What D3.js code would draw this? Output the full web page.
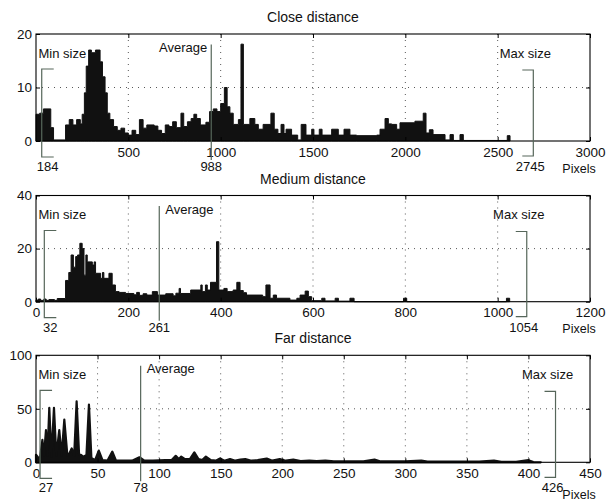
<!DOCTYPE html>
<html>
<head>
<meta charset="utf-8">
<script src="https://cdn.jsdelivr.net/npm/d3@7"></script>
<style>
	body { margin: 0; background: #fff; }
	svg text { font-family: "Liberation Sans", Arial, sans-serif; fill: #111; }
</style>
</head>
<body>
<script>

// histogram of close distance (bin start in pixels, count)
var closeX = [0, 20, 40, 80, 95, 160, 180, 200, 220, 240, 250, 262, 272, 285, 300, 322, 347, 360, 374, 386,
	400, 420, 440, 460, 480, 500, 520, 540, 560, 580, 600, 640, 660, 680, 700, 720, 740, 760, 785, 800,
	820, 840, 855, 870, 890, 920, 940, 960, 980, 1000, 1020, 1035, 1050, 1068, 1096, 1110, 1123, 1158, 1185, 1204,
	1230, 1272, 1290, 1310, 1327, 1343, 1354, 1384, 1417, 1436, 1462, 1493, 1505, 1534, 1549, 1601, 1637, 1668, 1700, 1736,
	1845, 1863, 1890, 1908, 1926, 1953, 1971, 2052, 2097, 2112, 2130, 2150, 2215, 2242, 2260, 2296, 2314, 2552, 2567];
var closeY = [5, 5.2, 6, 2.5, 0.2, 3, 4, 3, 4, 3.2, 5, 9, 14, 17, 16.5, 17, 14.8, 12, 9, 5.2,
	4, 2.7, 2, 2.4, 1.5, 1.1, 2, 1.2, 4, 2.4, 3, 2.8, 2, 1.4, 3, 2.7, 3.6, 2.5, 5.2, 2.7,
	3.6, 4.2, 5, 4.2, 3, 3.5, 5.5, 6, 5.5, 7, 10, 6.4, 5.2, 3.1, 4, 18.1, 3.1, 4.2, 3.1, 2.2,
	3.1, 5.2, 2.2, 1.4, 3.1, 1.4, 2.2, 1.1, 0.2, 3.1, 1.1, 2.2, 1.1, 2.2, 1.1, 2.2, 1.1, 2.2, 1.1, 1,
	1.1, 2.2, 4.2, 3.2, 3.1, 2.2, 3.4, 3.7, 5.2, 1.5, 2.1, 1.2, 0.2, 1.2, 0.1, 1.2, 0.1, 1, 0];

// histogram of medium distance
var medX = [0, 5, 10, 17, 22, 28, 40, 46, 64, 71, 76, 81, 86, 90, 95, 100, 104, 108, 111, 122,
	126, 129, 140, 144, 147, 158, 165, 172, 180, 194, 212, 218, 224, 232, 240, 252, 263, 281, 297, 303,
	310, 313, 335, 357, 360, 367, 371, 378, 391, 396, 407, 414, 427, 435, 442, 449, 456, 491, 498, 507,
	514, 521, 550, 565, 572, 583, 590, 597, 619, 626, 648, 655, 680, 689, 796, 803, 1019, 1026];
var medY = [0.6, 1, 0.5, 1, 0.5, 0.8, 0.5, 1.2, 8, 11, 17.6, 13, 17, 17.6, 22, 20, 10, 17.6, 15, 13.8,
	15, 10.7, 8.8, 11, 8.8, 10.7, 6.3, 3.8, 3.5, 3.1, 2.6, 3.5, 2.4, 3, 2.5, 3.8, 2.5, 3, 2.2, 3.2,
	5, 3.1, 4.4, 6.3, 3.8, 6.3, 4.4, 7.3, 22.6, 4.4, 5, 3.8, 4.4, 7.3, 4.2, 3.4, 2.5, 1.9, 6.3, 1.3,
	2.5, 1.3, 0.6, 1.3, 2.5, 4, 1.9, 0.4, 1.3, 0.3, 1.3, 0.2, 1.3, 0, 1.3, 0, 1.3, 0];

// far distance curve
var farX = [0, 1.4, 3, 5.2, 6.5, 8.1, 9.3, 10.8, 12.5, 14.6, 16.5, 18.9, 20.8, 23, 25.5, 27, 29, 31, 33, 35,
	36.5, 38.5, 41, 43, 45, 48, 51, 54, 58, 62, 65, 70, 78, 84, 88, 95, 105, 110, 113.5, 116,
	118, 121, 125, 128.6, 132, 135, 138, 142, 146, 149.5, 153, 157.6, 162, 166, 170, 175, 180, 187.4, 192, 198,
	203, 209, 215, 222, 228, 235, 242, 250, 258, 266, 275, 280, 290, 300, 313, 318, 330, 345, 360, 372,
	378, 390, 400, 404, 410];
var farY = [7, 5, 2, 21, 6, 30, 6, 51, 5, 51, 6, 30, 6, 40, 6, 8, 13, 6, 57, 7,
	7, 5, 7, 54, 4, 2, 11, 2, 1.5, 10, 1.5, 1.5, 1.5, 4.7, 1.5, 1.5, 2, 2, 6, 3,
	5.3, 3, 3, 9.3, 3, 2, 5.3, 2, 1.5, 3.7, 1.5, 3, 1.5, 2.5, 3, 1.5, 2, 3.5, 1.5, 3,
	1.5, 2.5, 1.2, 1.5, 1.2, 1.5, 1, 1, 0.8, 0.8, 2.5, 0.8, 0.8, 0.8, 1.5, 0.6, 0.6, 0.6, 0.6, 1.5,
	0.5, 0.5, 2, 0.3, 0];

// axis ticks
var closeTicksX = [500, 1000, 1500, 2000, 2500, 3000];
var closeTicksY = [0, 10, 20];
var medTicksX = [0, 200, 400, 600, 800, 1000, 1200];
var medTicksY = [0, 20, 40];
var farTicksX = [0, 50, 100, 150, 200, 250, 300, 350, 400, 450];
var farTicksY = [0, 50, 100];

// min / average / max labels and where their markers sit on the x axis
var closeMarks = ["184", "988", "2745"];
var closeMarkAt = [31, 949, 2693];
var medMarks = ["32", "261", "1054"];
var medMarkAt = [18, 267, 1063];
var farMarks = ["27", "78", "426"];
var farMarkAt = [3.3, 85, 422];

var titles = ["Close distance", "Medium distance", "Far distance"];

var svg = d3.select("body").append("svg")
	.attr("width", 607)
	.attr("height", 502);

var annoColor = "#56665a";

function drawPanel(p) {
	var x = d3.scaleLinear().domain([0, p.xMax]).range([36, 590]);
	var y = d3.scaleLinear().domain([0, p.yMax]).range([p.bottom, p.top]);
	var g = svg.append("g");

	// title
	g.append("text")
		.attr("x", 313)
		.attr("y", p.top - 12)
		.attr("text-anchor", "middle")
		.style("font-size", "14px")
		.text(p.title);

	// dotted grid
	g.selectAll(".gx")
		.data(p.ticksX.filter(function(v) { return v > 0 && v < p.xMax; }))
		.enter().append("line")
		.attr("x1", function(d) { return x(d); })
		.attr("x2", function(d) { return x(d); })
		.attr("y1", p.top)
		.attr("y2", p.bottom)
		.attr("stroke", "#444")
		.attr("stroke-width", 0.9)
		.attr("stroke-dasharray", "1,5");
	g.selectAll(".gy")
		.data(p.ticksY.filter(function(v) { return v > 0 && v < p.yMax; }))
		.enter().append("line")
		.attr("x1", 36)
		.attr("x2", 590)
		.attr("y1", function(d) { return y(d); })
		.attr("y2", function(d) { return y(d); })
		.attr("stroke", "#444")
		.attr("stroke-width", 0.9)
		.attr("stroke-dasharray", "1,5");

	// histogram / curve
	var area = d3.area()
		.x(function(d, i) { return x(p.xs[i]); })
		.y0(y(0))
		.y1(function(d) { return y(d); })
		.curve(p.step ? d3.curveStepAfter : d3.curveLinear);
	g.append("path")
		.datum(p.ys)
		.attr("d", area)
		.attr("fill", "#111")
		.attr("stroke", "#111")
		.attr("stroke-width", p.step ? 1 : 2.2)
		.attr("stroke-linejoin", "round");

	// axes, ticks pointing inward
	var fmt = d3.format("d");
	var bottomAxis = g.append("g")
		.attr("transform", "translate(0," + p.bottom + ")")
		.call(d3.axisBottom(x).tickValues(p.ticksX).tickFormat(fmt).tickSize(-4).tickPadding(6));
	var leftAxis = g.append("g")
		.attr("transform", "translate(36,0)")
		.call(d3.axisLeft(y).tickValues(p.ticksY).tickFormat(fmt).tickSize(-4).tickPadding(4));
	g.append("g")
		.attr("transform", "translate(0," + p.top + ")")
		.call(d3.axisTop(x).tickValues(p.ticksX).tickSize(-4).tickFormat(""));
	g.append("g")
		.attr("transform", "translate(590,0)")
		.call(d3.axisRight(y).tickValues(p.ticksY).tickSize(-4).tickFormat(""));
	g.selectAll(".domain").remove();
	g.selectAll(".tick line").attr("stroke", "#000");
	[bottomAxis, leftAxis].forEach(function(a) {
		a.attr("font-family", null).attr("font-size", null);
		a.selectAll("text").style("font-size", "13.5px");
	});

	// box
	g.append("rect")
		.attr("x", 36)
		.attr("y", p.top)
		.attr("width", 554)
		.attr("height", p.bottom - p.top)
		.attr("fill", "none")
		.attr("stroke", "#000")
		.attr("stroke-width", 1.1);

	// min size bracket
	var mx = x(p.markAt[0]);
	g.append("path")
		.attr("d", "M" + (mx + 12) + "," + (p.top + 35) + "H" + mx + "V" + (p.bottom + 16) + "H" + (mx + 12))
		.attr("fill", "none")
		.attr("stroke", annoColor)
		.attr("stroke-width", 1.2);
	g.append("text")
		.attr("x", x(0) + 2.5)
		.attr("y", p.top + 23.5)
		.style("font-size", "13px")
		.text("Min size");
	g.append("text")
		.attr("x", mx + 6)
		.attr("y", p.bottom + 30)
		.attr("text-anchor", "middle")
		.style("font-size", "13px")
		.text(p.marks[0]);

	// average line
	var ax = x(p.markAt[1]);
	g.append("line")
		.attr("x1", ax)
		.attr("x2", ax)
		.attr("y1", p.top + 10.5)
		.attr("y2", p.bottom + 19)
		.attr("stroke", annoColor)
		.attr("stroke-width", 1.2);
	g.append("text")
		.attr("x", p.avgLeft ? ax - 4 : ax + 6)
		.attr("y", p.top + 18)
		.attr("text-anchor", p.avgLeft ? "end" : "start")
		.style("font-size", "13px")
		.text("Average");
	g.append("text")
		.attr("x", ax)
		.attr("y", p.bottom + 30)
		.attr("text-anchor", "middle")
		.style("font-size", "13px")
		.text(p.marks[1]);

	// max size bracket
	var xx = x(p.markAt[2]);
	g.append("path")
		.attr("d", "M" + (xx - 11) + "," + (p.top + 36) + "H" + xx + "V" + (p.bottom + 15) + "H" + (xx - 11))
		.attr("fill", "none")
		.attr("stroke", annoColor)
		.attr("stroke-width", 1.2);
	g.append("text")
		.attr("x", xx - 8)
		.attr("y", p.top + 23.5)
		.attr("text-anchor", "middle")
		.style("font-size", "13px")
		.text("Max size");
	g.append("text")
		.attr("x", xx - 3)
		.attr("y", p.bottom + 30)
		.attr("text-anchor", "middle")
		.style("font-size", "13px")
		.text(p.marks[2]);

	// unit label
	g.append("text")
		.attr("x", 579)
		.attr("y", p.bottom + p.unitDy)
		.attr("text-anchor", "middle")
		.style("font-size", "12.5px")
		.text("Pixels");
}

drawPanel({ title: titles[0], xs: closeX, ys: closeY, step: true, xMax: 3000, yMax: 20,
	ticksX: closeTicksX, ticksY: closeTicksY, marks: closeMarks, markAt: closeMarkAt,
	top: 34, bottom: 141, avgLeft: true, unitDy: 31.5 });
drawPanel({ title: titles[1], xs: medX, ys: medY, step: true, xMax: 1200, yMax: 40,
	ticksX: medTicksX, ticksY: medTicksY, marks: medMarks, markAt: medMarkAt,
	top: 195.5, bottom: 301.7, avgLeft: false, unitDy: 31.5 });
drawPanel({ title: titles[2], xs: farX, ys: farY, step: false, xMax: 450, yMax: 100,
	ticksX: farTicksX, ticksY: farTicksY, marks: farMarks, markAt: farMarkAt,
	top: 355.3, bottom: 462.3, avgLeft: false, unitDy: 37 });

</script>
</body>
</html>
